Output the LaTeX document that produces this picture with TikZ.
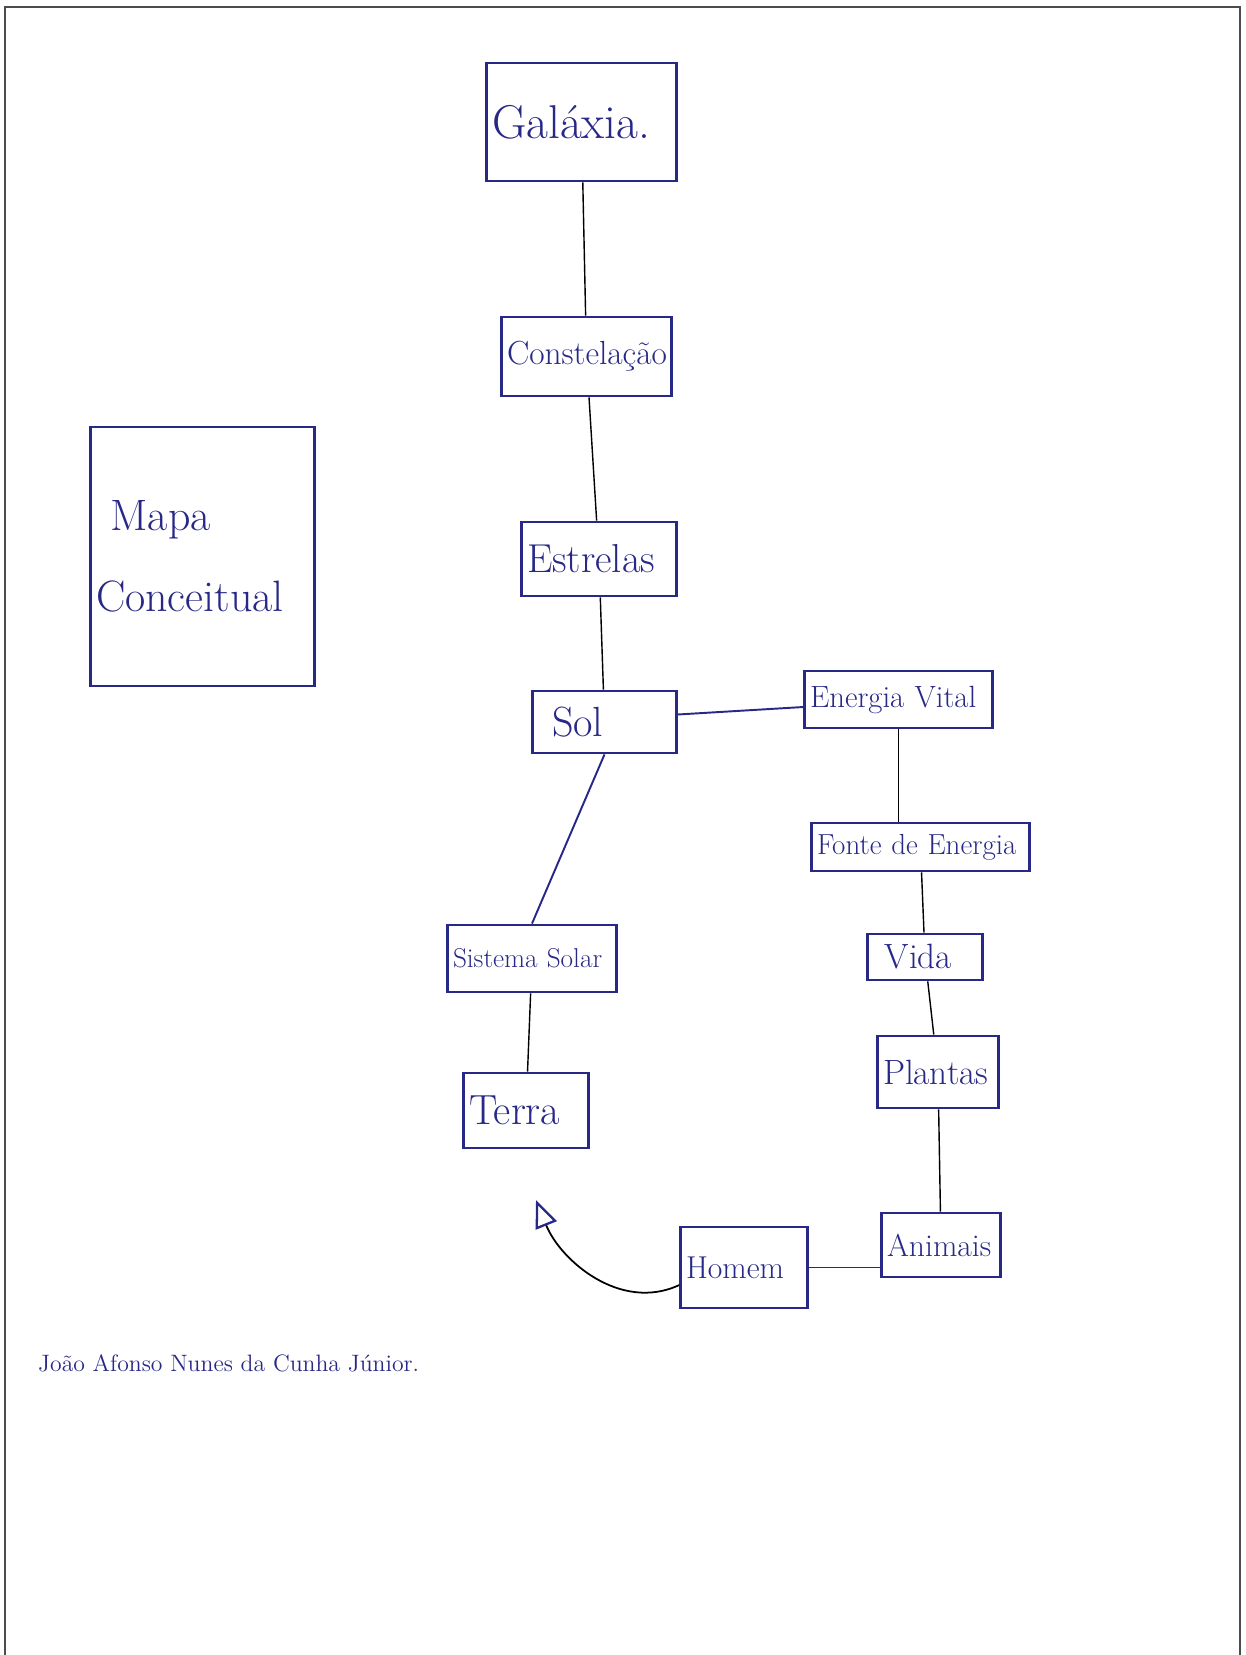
\documentclass[tikz,border=0pt]{standalone}
\usetikzlibrary{arrows.meta}
\definecolor{ink}{RGB}{40,40,135}
\tikzset{
	box/.style={draw=ink, line width=1.6pt, align=left, inner sep=3pt, text=ink},
	link/.style={draw=black, line width=0.8pt},
	pen/.style={draw=ink, line width=1.1pt},
}
\begin{document}
\begin{tikzpicture}
	\useasboundingbox (0,0) rectangle (24.9,-33.1);
	\draw[black!70, line width=0.8pt] (0.1,-33.1) -- (0.1,-0.14) -- (24.8,-0.14) -- (24.8,-33.1);

	\node[box, text width=4.26cm, minimum height=5.18cm, font=\fontsize{25}{46}\selectfont] (mapa) at (4.05,-11.13) {\ Mapa\\Conceitual};

	\node[box, text width=3.58cm, minimum height=2.36cm, font=\fontsize{27}{30}\selectfont] (galaxia) at (11.63,-2.44) {Galáxia.};
	\node[box, text width=3.18cm, minimum height=1.58cm, font=\fontsize{19}{22}\selectfont] (constelacao) at (11.73,-7.13) {Constelação};
	\node[box, text width=2.88cm, minimum height=1.48cm, font=\fontsize{23}{25}\selectfont] (estrelas) at (11.98,-11.18) {Estrelas};
	\node[box, text width=2.66cm, minimum height=1.24cm, font=\fontsize{24}{26}\selectfont] (sol) at (12.09,-14.44) {\ Sol};
	\node[box, text width=3.16cm, minimum height=1.34cm, font=\fontsize{15.5}{18}\selectfont] (sistema) at (10.64,-19.17) {Sistema Solar};
	\node[box, text width=2.28cm, minimum height=1.5cm, font=\fontsize{24}{26}\selectfont] (terra) at (10.52,-22.21) {Terra};

	\node[box, text width=3.54cm, minimum height=1.14cm, font=\fontsize{17.5}{20}\selectfont] (energia) at (17.97,-13.99) {Energia Vital};
	\node[box, text width=4.14cm, minimum height=0.96cm, font=\fontsize{16.5}{18}\selectfont] (fonte) at (18.41,-16.94) {Fonte de Energia};
	\node[box, text width=2.08cm, minimum height=0.92cm, font=\fontsize{20}{21}\selectfont] (vida) at (18.5,-19.14) {\ Vida};
	\node[box, text width=2.2cm, minimum height=1.44cm, font=\fontsize{20}{22}\selectfont] (plantas) at (18.76,-21.44) {Plantas};
	\node[box, text width=2.16cm, minimum height=1.28cm, font=\fontsize{18}{20}\selectfont] (animais) at (18.82,-24.9) {Animais};
	\node[box, text width=2.32cm, minimum height=1.62cm, font=\fontsize{18}{20}\selectfont] (homem) at (14.88,-25.35) {Homem};

	\node[text=ink, anchor=west, font=\fontsize{13.5}{15}\selectfont] (autor) at (0.64,-27.26) {João Afonso Nunes da Cunha Júnior.};

	\draw[link] (galaxia) -- (constelacao);
	\draw[link] (constelacao) -- (estrelas);
	\draw[link] (estrelas) -- (sol);
	\draw[pen] (sol.south) -- (sistema.north);
	\draw[pen] ([yshift=0.15cm]sol.east) -- ([yshift=-0.15cm]energia.west);
	\draw[link] (sistema) -- (terra);
	\draw[link] (energia.south) -- (energia.south |- fonte.north);
	\draw[link] (fonte) -- (vida);
	\draw[link] (vida) -- (plantas);
	\draw[link] (plantas) -- (animais);
	\draw[pen] (homem.east) -- (homem.east -| animais.west);

	\coordinate (seta) at (10.72,-24.0);
	\draw[black, line width=1pt, -{Triangle[open, length=0.55cm, width=0.45cm, line width=1.3pt, color=ink]}] ([yshift=-0.35cm]homem.west) to[out=205, in=-68] (seta);
\end{tikzpicture}
\end{document}
